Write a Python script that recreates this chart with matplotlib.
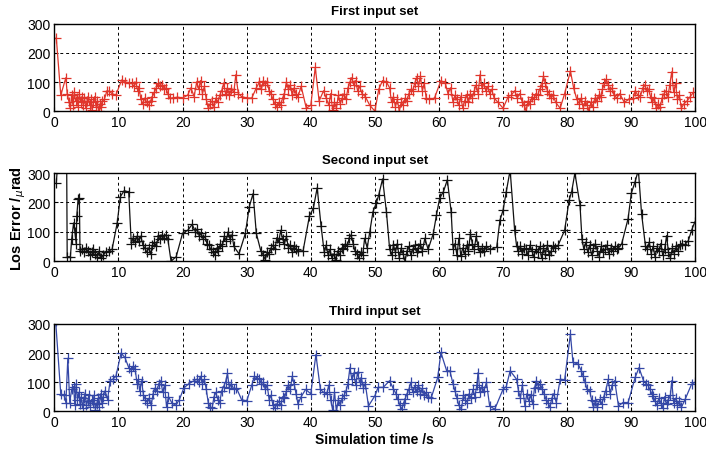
import matplotlib
matplotlib.use("Agg")
import matplotlib.pyplot as plt

plt.rcParams['font.family'] = ['Liberation Sans', 'DejaVu Sans']

# ---- first input set (red) ----
red_t = [
    0.3, 1.0, 1.8, 2.0, 2.3, 2.5, 2.7, 2.9, 3.1, 3.3,
    3.5, 3.7, 3.9, 4.1, 4.3, 4.5, 4.7, 4.9, 5.1, 5.3,
    5.5, 5.7, 5.9, 6.1, 6.3, 6.5, 6.7, 6.9, 7.1, 7.3,
    7.5, 7.8, 8.2, 8.6, 9.0, 9.6, 10.5, 11.0, 11.6, 12.1,
    12.4, 12.7, 13.0, 13.2, 13.5, 13.8, 14.1, 14.4, 14.7, 15.0,
    15.3, 15.6, 15.9, 16.2, 16.5, 16.8, 17.1, 17.4, 17.7, 18.0,
    18.5, 19.2, 20.0, 20.8, 21.3, 21.8, 22.2, 22.5, 22.8, 23.1,
    23.4, 23.7, 24.0, 24.3, 24.6, 24.9, 25.2, 25.5, 25.8, 26.1,
    26.4, 26.7, 27.0, 27.3, 27.6, 28.0, 28.3, 28.7, 29.2, 30.0,
    30.8, 31.5, 32.0, 32.3, 32.6, 32.9, 33.2, 33.5, 33.8, 34.1,
    34.4, 34.7, 35.0, 35.3, 35.6, 35.9, 36.2, 36.5, 36.8, 37.1,
    37.4, 37.7, 38.0, 38.5, 39.3, 40.0, 40.7, 41.3, 42.0, 42.4,
    42.8, 43.1, 43.4, 43.7, 44.0, 44.3, 44.6, 44.9, 45.2, 45.5,
    45.8, 46.1, 46.4, 46.7, 47.0, 47.3, 47.6, 48.0, 48.5, 49.2,
    50.0, 50.6, 51.2, 51.8, 52.3, 52.6, 52.9, 53.2, 53.5, 53.8,
    54.1, 54.4, 54.7, 55.0, 55.3, 55.6, 55.9, 56.2, 56.5, 56.8,
    57.1, 57.4, 57.7, 58.0, 58.5, 59.3, 60.3, 61.0, 61.4, 61.8,
    62.2, 62.5, 62.8, 63.1, 63.4, 63.7, 64.0, 64.3, 64.6, 64.9,
    65.2, 65.5, 65.8, 66.1, 66.4, 66.7, 67.0, 67.3, 67.6, 67.9,
    68.2, 68.6, 69.2, 70.0, 70.8, 71.3, 71.8, 72.2, 72.6, 73.0,
    73.3, 73.6, 73.9, 74.2, 74.5, 74.8, 75.1, 75.4, 75.7, 76.0,
    76.3, 76.6, 76.9, 77.2, 77.5, 77.8, 78.2, 78.9, 79.6, 80.5,
    81.0, 81.5, 81.9, 82.2, 82.5, 82.8, 83.1, 83.4, 83.7, 84.0,
    84.3, 84.6, 84.9, 85.2, 85.5, 85.8, 86.1, 86.4, 86.7, 87.0,
    87.3, 87.7, 88.2, 88.9, 89.6, 90.3, 90.6, 91.0, 91.4, 91.8,
    92.1, 92.4, 92.7, 93.0, 93.3, 93.6, 93.9, 94.2, 94.5, 94.8,
    95.1, 95.4, 95.7, 96.0, 96.3, 96.6, 96.9, 97.2, 97.5, 97.8,
    98.2, 98.7, 99.2, 99.7,
]
red_v = [
    252, 55, 115, 60, 30, 10, 55, 20, 65, 35,
    45, 15, 60, 30, 50, 20, 45, 10, 35, 50,
    20, 40, 5, 30, 50, 15, 35, 0, 25, 15,
    35, 40, 70, 68, 60, 55, 107, 100, 98, 95,
    85, 100, 70, 80, 40, 25, 45, 30, 20, 35,
    50, 65, 80, 95, 85, 90, 75, 80, 60, 45,
    45, 48, 45, 55, 80, 50, 100, 75, 105, 60,
    85, 40, 10, 25, 35, 15, 45, 30, 55, 70,
    95, 60, 80, 55, 75, 65, 125, 60, 50, 45,
    45, 80, 100, 75, 105, 90, 100, 70, 60, 40,
    25, 15, 30, 20, 45, 60, 100, 75, 90, 55,
    80, 60, 50, 85, 10, 20, 150, 35, 70, 45,
    20, 60, 5, 30, 10, 55, 25, 45, 60, 40,
    80, 100, 115, 90, 105, 70, 85, 60, 50, 20,
    0, 75, 105, 100, 80, 30, 50, 15, 40, 0,
    30, 20, 45, 35, 60, 75, 70, 95, 115, 85,
    120, 70, 95, 45, 40, 45, 105, 95, 60, 80,
    30, 55, 40, 20, 50, 10, 35, 55, 30, 60,
    45, 70, 90, 60, 125, 80, 95, 70, 85, 60,
    75, 45, 30, 10, 50, 55, 70, 45, 60, 30,
    20, 0, 35, 25, 50, 40, 60, 55, 75, 85,
    120, 95, 70, 60, 45, 55, 30, 10, 60, 138,
    80, 40, 25, 45, 10, 35, 20, 0, 30, 15,
    45, 35, 55, 50, 75, 95, 110, 90, 70, 80,
    55, 45, 60, 30, 40, 45, 70, 55, 50, 80,
    90, 70, 75, 50, 30, 45, 10, 25, 15, 45,
    60, 70, 50, 90, 135, 65, 95, 40, 55, 10,
    25, 35, 50, 65,
]

# ---- second input set (black) ----
black_t = [
    0.3, 0.8, 1.9, 2.0, 2.5, 2.7, 3.0, 3.2, 3.4, 3.5,
    3.7, 3.9, 4.0, 4.3, 4.6, 4.9, 5.2, 5.5, 5.8, 6.1,
    6.4, 6.7, 7.0, 7.3, 7.6, 8.0, 8.5, 9.0, 9.8, 10.3,
    10.9, 11.6, 12.0, 12.3, 12.6, 12.9, 13.2, 13.5, 13.8, 14.1,
    14.4, 14.7, 15.0, 15.3, 15.6, 15.9, 16.2, 16.5, 16.8, 17.1,
    17.4, 17.7, 18.2, 19.0, 20.0, 20.8, 21.5, 22.0, 22.3, 22.6,
    22.9, 23.2, 23.5, 23.8, 24.1, 24.4, 24.7, 25.0, 25.3, 25.6,
    25.9, 26.2, 26.5, 26.8, 27.1, 27.4, 27.7, 28.0, 28.8, 29.8,
    30.4, 31.0, 31.5, 32.2, 32.6, 32.9, 33.2, 33.5, 33.8, 34.1,
    34.4, 34.7, 35.0, 35.3, 35.6, 35.9, 36.2, 36.5, 36.8, 37.1,
    37.4, 37.7, 38.0, 38.8, 39.8, 40.4, 41.0, 41.6, 42.1, 42.4,
    42.7, 43.0, 43.3, 43.6, 43.9, 44.2, 44.5, 44.8, 45.1, 45.4,
    45.7, 46.0, 46.3, 46.6, 46.9, 47.2, 47.5, 47.8, 48.1, 48.4,
    48.8, 49.2, 49.7, 50.2, 50.6, 51.2, 51.8, 52.3, 52.6, 52.9,
    53.2, 53.5, 53.8, 54.1, 54.4, 54.7, 55.0, 55.3, 55.6, 55.9,
    56.2, 56.5, 56.8, 57.1, 57.4, 57.8, 58.3, 59.1, 59.6, 60.1,
    60.7, 61.3, 61.9, 62.2, 62.5, 62.8, 63.1, 63.4, 63.7, 64.0,
    64.3, 64.6, 64.9, 65.2, 65.5, 65.8, 66.1, 66.4, 66.7, 67.0,
    67.4, 68.0, 69.0, 69.5, 70.0, 70.5, 71.1, 71.8, 72.1, 72.4,
    72.7, 73.0, 73.3, 73.6, 73.9, 74.2, 74.5, 74.8, 75.1, 75.4,
    75.7, 76.0, 76.3, 76.6, 76.9, 77.2, 77.5, 77.8, 78.1, 78.6,
    79.6, 80.3, 80.7, 81.2, 82.0, 82.3, 82.6, 82.9, 83.2, 83.5,
    83.8, 84.1, 84.4, 84.7, 85.0, 85.3, 85.6, 85.9, 86.2, 86.5,
    86.8, 87.1, 87.4, 87.7, 88.0, 88.5, 89.5, 90.0, 90.6, 91.1,
    91.6, 92.2, 92.5, 92.8, 93.1, 93.4, 93.7, 94.0, 94.3, 94.6,
    94.9, 95.2, 95.5, 95.8, 96.1, 96.4, 96.7, 97.0, 97.3, 97.6,
    97.9, 98.3, 98.9, 99.4, 99.9,
]
black_v = [
    265, 420, 420, 15, 15, 75, 130, 100, 60, 155,
    210, 215, 35, 40, 30, 45, 35, 20, 30, 40,
    25, 15, 35, 10, 20, 30, 35, 40, 130, 220,
    240, 235, 60, 80, 65, 85, 70, 85, 55, 45,
    30, 45, 25, 55, 65, 50, 85, 75, 90, 80,
    90, 75, 0, 15, 95, 105, 125, 100, 110, 85,
    95, 75, 85, 60, 55, 40, 30, 20, 45, 35,
    60, 50, 85, 70, 100, 75, 90, 50, 25, 95,
    185, 230, 95, 35, 20, 5, 30, 25, 45, 55,
    40, 80, 65, 105, 75, 60, 85, 45, 55, 30,
    50, 40, 35, 35, 155, 180, 250, 120, 30, 55,
    20, 40, 10, 25, 5, 35, 20, 45, 40, 60,
    50, 80, 90, 60, 35, 25, 10, 30, 20, 78,
    45, 99, 168, 197, 225, 280, 168, 41, 20, 55,
    30, 60, 10, 45, 25, 0, 35, 50, 20, 40,
    55, 30, 45, 60, 35, 78, 40, 93, 156, 214,
    237, 277, 168, 41, 60, 20, 78, 18, 45, 25,
    55, 35, 93, 60, 40, 85, 50, 30, 45, 35,
    50, 40, 47, 139, 174, 237, 310, 105, 53, 35,
    50, 25, 45, 40, 20, 55, 35, 15, 40, 30,
    50, 10, 45, 25, 55, 20, 35, 50, 45, 55,
    105, 208, 237, 300, 191, 76, 40, 65, 30, 55,
    20, 45, 60, 35, 15, 50, 30, 40, 55, 25,
    45, 35, 50, 40, 45, 59, 145, 231, 271, 310,
    162, 53, 40, 65, 25, 50, 15, 45, 35, 60,
    20, 40, 87, 30, 10, 45, 25, 50, 35, 55,
    60, 55, 70, 105, 133,
]

# ---- third input set (blue) ----
blue_t = [
    0.2, 1.0, 1.5, 1.8, 2.1, 2.4, 2.7, 3.0, 3.2, 3.4,
    3.6, 3.8, 4.0, 4.2, 4.4, 4.6, 4.8, 5.0, 5.2, 5.4,
    5.6, 5.8, 6.0, 6.2, 6.4, 6.6, 6.8, 7.0, 7.2, 7.4,
    7.6, 7.9, 8.3, 8.7, 9.1, 9.6, 10.4, 11.0, 11.6, 12.0,
    12.3, 12.6, 12.9, 13.1, 13.3, 13.6, 13.9, 14.2, 14.5, 14.8,
    15.1, 15.4, 15.7, 16.0, 16.3, 16.6, 16.9, 17.2, 17.5, 17.8,
    18.3, 18.9, 19.5, 20.2, 21.0, 21.8, 22.2, 22.5, 22.8, 23.1,
    23.4, 23.7, 24.0, 24.3, 24.6, 24.9, 25.2, 25.5, 25.8, 26.1,
    26.4, 26.7, 27.0, 27.3, 27.6, 28.0, 28.4, 29.2, 30.0, 30.8,
    31.2, 31.6, 32.0, 32.3, 32.6, 32.9, 33.2, 33.5, 33.8, 34.1,
    34.4, 34.7, 35.0, 35.3, 35.6, 35.9, 36.2, 36.5, 36.8, 37.1,
    37.4, 37.7, 38.0, 38.5, 39.2, 40.0, 40.8, 41.5, 42.0, 42.5,
    42.8, 43.1, 43.4, 43.7, 44.0, 44.3, 44.6, 44.9, 45.2, 45.5,
    45.8, 46.1, 46.4, 46.7, 47.0, 47.3, 47.6, 47.9, 48.2, 48.5,
    49.0, 50.0, 50.5, 51.3, 52.3, 52.9, 53.3, 53.6, 53.9, 54.2,
    54.5, 54.7, 55.0, 55.3, 55.6, 55.9, 56.2, 56.5, 56.8, 57.1,
    57.4, 57.7, 58.0, 58.3, 58.8, 59.8, 60.3, 61.2, 61.7, 62.2,
    62.5, 62.8, 63.1, 63.5, 63.8, 64.1, 64.4, 64.7, 65.0, 65.3,
    65.6, 65.9, 66.1, 66.4, 66.7, 67.0, 67.4, 67.9, 68.7, 70.0,
    70.5, 71.1, 72.1, 72.4, 72.7, 73.0, 73.4, 73.7, 74.0, 74.3,
    74.6, 74.9, 75.2, 75.5, 75.8, 76.1, 76.4, 76.7, 77.0, 77.3,
    77.6, 77.9, 78.3, 78.9, 79.6, 80.5, 80.9, 81.7, 82.2, 82.5,
    82.8, 83.1, 83.5, 83.8, 84.1, 84.4, 84.7, 85.1, 85.4, 85.7,
    86.0, 86.4, 86.7, 87.0, 87.4, 88.0, 88.7, 89.5, 90.6, 91.2,
    91.9, 92.3, 92.6, 92.9, 93.2, 93.4, 93.7, 94.0, 94.3, 94.6,
    94.9, 95.2, 95.5, 95.8, 96.1, 96.3, 96.6, 96.9, 97.2, 97.5,
    97.8, 98.4, 99.4, 99.9,
]
blue_v = [
    310, 59, 55, 30, 182, 30, 75, 85, 20, 95,
    40, 65, 25, 50, 10, 45, 60, 20, 35, 55,
    15, 40, 30, 55, 5, 25, 45, 15, 60, 30,
    50, 70, 40, 105, 110, 120, 200, 185, 150, 140,
    155, 145, 95, 110, 70, 105, 55, 40, 30, 45,
    20, 60, 80, 70, 95, 105, 65, 90, 15, 50,
    30, 20, 40, 80, 95, 105, 110, 100, 120, 95,
    110, 75, 30, 15, 10, 50, 65, 40, 30, 70,
    85, 100, 130, 80, 95, 75, 80, 40, 35, 90,
    120, 115, 110, 95, 100, 75, 90, 40, 55, 20,
    10, 25, 35, 20, 50, 45, 70, 90, 75, 120,
    95, 60, 25, 50, 75, 60, 195, 75, 65, 60,
    90, 40, 5, 65, 0, 40, 20, 45, 55, 70,
    95, 150, 110, 130, 90, 135, 100, 115, 80, 95,
    18, 53, 82, 82, 105, 76, 60, 41, 20, 7,
    30, 41, 60, 75, 99, 65, 85, 70, 90, 60,
    80, 55, 65, 50, 47, 116, 202, 139, 139, 93,
    70, 45, 20, 7, 55, 40, 30, 60, 45, 75,
    50, 90, 133, 65, 85, 70, 99, 18, 7, 76,
    85, 139, 110, 70, 45, 90, 18, 60, 35, 55,
    25, 80, 105, 85, 95, 75, 60, 40, 30, 13,
    45, 60, 30, 110, 108, 265, 168, 162, 139, 120,
    99, 75, 70, 40, 13, 35, 13, 41, 25, 50,
    70, 110, 60, 90, 105, 18, 30, 30, 116, 150,
    105, 95, 90, 75, 60, 53, 35, 20, 45, 30,
    10, 50, 25, 40, 55, 105, 30, 45, 20, 35,
    13, 41, 93, 99,
]

titles = ["First input set", "Second input set", "Third input set"]
x_ticks = [0, 10, 20, 30, 40, 50, 60, 70, 80, 90, 100]
y_ticks = [0, 100, 200, 300]

series = [
    (red_t, red_v, "#e0352b"),
    (black_t, black_v, "#111111"),
    (blue_t, blue_v, "#3447a6"),
]

fig = plt.figure(figsize=(7.06, 4.52), dpi=100)
# axes boxes in figure fraction (left, bottom, width, height)
boxes = [
    (0.077, 0.752, 0.908, 0.193),
    (0.077, 0.420, 0.908, 0.195),
    (0.077, 0.088, 0.908, 0.193),
]

for i, (box, (t, v, col)) in enumerate(zip(boxes, series)):
    ax = fig.add_axes(box)
    ax.plot(t, v, color=col, lw=0.9, marker="+", ms=7.5, mew=0.9, clip_on=True)
    ax.set_xlim(0, 100)
    ax.set_ylim(0, 300)
    ax.set_xticks(x_ticks)
    ax.set_yticks(y_ticks)
    ax.grid(True, color="black", lw=0.7, linestyle=(0, (3, 3)))
    ax.tick_params(direction="in", length=3, labelsize=10, pad=3)
    for sp in ax.spines.values():
        sp.set_linewidth(1.0)
    ax.set_title(titles[i], fontsize=9.5, fontweight="bold", pad=7)
    if i == 1:
        ax.set_ylabel(r"Los Error /$_{\mu}$rad", fontsize=10.5, fontweight="bold")
        # pull the label in close to the tick labels, as in the original
        ax.yaxis.set_label_coords(-0.041, 0.5)
    if i == 2:
        ax.set_xlabel("Simulation time /s", fontsize=10, fontweight="bold", labelpad=2)

fig.savefig("out.png", dpi=100)
